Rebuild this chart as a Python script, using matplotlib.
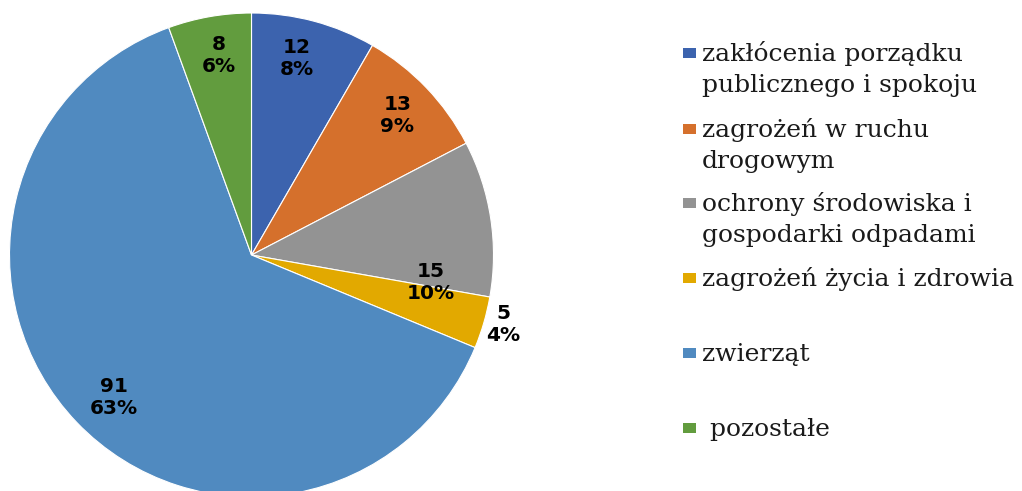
import matplotlib
matplotlib.use("Agg")
import matplotlib.pyplot as plt
import numpy as np
from matplotlib.patches import Rectangle

# Data
categories = ["zakłócenia porządku\npublicznego i spokoju",
              "zagrożeń w ruchu\ndrogowym",
              "ochrony środowiska i\ngospodarki odpadami",
              "zagrożeń życia i zdrowia",
              "zwierząt",
              " pozostałe"]
values = [12, 13, 15, 5, 91, 8]
percents = [8, 9, 10, 4, 63, 6]
colors = ["#3C63AE", "#D5702C", "#939393", "#E2A900", "#508AC0", "#629C3E"]

# label placement tweaks (radius fraction, angle shift in degrees)
lab_r = [0.835, 0.835, 0.75, 1.08, 0.818, 0.835]
lab_shift = [2, 0, -17.5, 0.8, 2.2, -0.8]

W, H = 1022, 491
fig = plt.figure(figsize=(W / 100, H / 100), dpi=100)

cx, cy, R = 251.5, 255, 242
ax = fig.add_axes([(cx - R) / W, (H - cy - R) / H, 2 * R / W, 2 * R / H])
wedges, _ = ax.pie(values, colors=colors, startangle=90, counterclock=False,
                   radius=1, wedgeprops=dict(edgecolor="white", linewidth=0.8))
ax.set_xlim(-1, 1)
ax.set_ylim(-1, 1)
ax.set_aspect("equal")
ax.axis("off")

for w, v, p, r, s in zip(wedges, values, percents, lab_r, lab_shift):
    ang = np.deg2rad((w.theta1 + w.theta2) / 2 + s)
    ax.text(r * np.cos(ang), r * np.sin(ang), f"{v}\n{p}%",
            ha="center", va="center", fontsize=14.5, fontweight="bold",
            family="DejaVu Sans", linespacing=1.2, color="black")

# Legend (manual, Excel-like)
marker_y = [52.7, 129, 202.7, 277.7, 352.7, 427.7]
line_gap = 31
for lab, c, my in zip(categories, colors, marker_y):
    fig.patches.append(Rectangle((683 / W, 1 - (my + 5) / H), 13 / W, 10 / H,
                                 transform=fig.transFigure, facecolor=c,
                                 edgecolor="none"))
    for i, line in enumerate(lab.split("\n")):
        fig.text(702 / W, 1 - (my + 8 + i * line_gap) / H, line,
                 ha="left", va="baseline", fontsize=18,
                 family="DejaVu Serif", color="#1a1a1a")

fig.savefig("out.png", dpi=100)
